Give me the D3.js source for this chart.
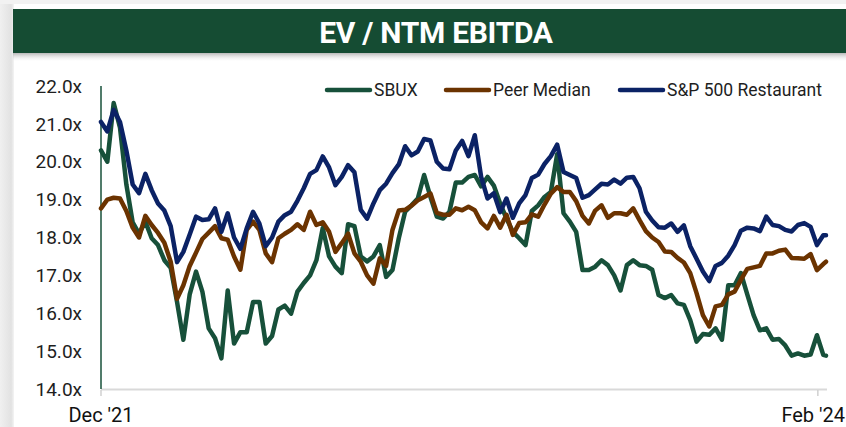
<!DOCTYPE html>
<html>
<head>
<meta charset="utf-8">
<script src="https://cdn.jsdelivr.net/npm/d3@7"></script>
<style>
  html, body { margin: 0; padding: 0; background: #fff; }
  svg { display: block; font-family: Roboto, "Noto Sans", sans-serif; }
</style>
</head>
<body>
<svg id="chart" width="846" height="427"></svg>
<script>
// weekly closes, Dec 1 2021 -> Feb 2024
const startDate = new Date(2021, 11, 1);
const endDate = new Date(2024, 1, 10);

const sbux = [20.3, 20.0, 21.55, 20.9, 19.4, 18.4, 18.1, 18.42, 17.98, 17.8,
  17.4, 17.2, 16.3, 15.3, 16.5, 17.1, 16.57, 15.6, 15.34, 14.81,
  16.6, 15.2, 15.5, 15.5, 16.3, 16.3, 15.2, 15.4, 16.1, 16.2,
  15.99, 16.57, 16.8, 17.0, 17.4, 18.25, 17.5, 17.23, 17.06, 18.35,
  18.3, 17.5, 17.37, 17.5, 17.8, 16.96, 17.14, 17.98, 18.68, 18.85,
  19.03, 19.65, 19.07, 18.55, 18.5, 18.68, 19.45, 19.45, 19.6, 19.65,
  19.35, 19.6, 19.37, 18.9, 18.5, 18.15, 17.98, 17.8, 18.7, 18.85,
  19.07, 19.2, 20.2, 18.64, 18.42, 18.15, 17.14, 17.14, 17.23, 17.4,
  17.27, 17.0, 16.6, 17.27, 17.4, 17.27, 17.25, 17.15, 16.48, 16.4,
  16.48, 16.26, 16.22, 15.82, 15.25, 15.45, 15.43, 15.6, 15.3, 16.74,
  16.74, 17.06, 16.5, 15.95, 15.55, 15.6, 15.3, 15.32, 15.15, 14.88,
  14.94, 14.88, 14.91, 15.42, 14.9, 14.88];

const peerMedian = [18.77, 19.0, 19.05, 19.03, 18.7, 18.26, 18.0, 18.57, 18.33, 18.12,
  17.86, 17.36, 16.38, 16.74, 17.25, 17.6, 17.96, 18.13, 18.3, 17.98,
  17.94, 17.5, 17.15, 18.2, 18.42, 18.2, 17.58, 17.35, 17.98, 18.1,
  18.2, 18.35, 18.2, 18.68, 18.33, 18.4, 18.15, 17.62, 17.85, 18.1,
  17.58, 17.36, 17.0, 16.78, 17.45, 17.25, 18.2, 18.71, 18.73, 18.84,
  18.98, 19.07, 19.16, 18.65, 18.6, 18.6, 18.77, 18.72, 18.81, 18.72,
  18.4, 18.24, 18.57, 18.26, 18.6, 18.07, 18.38, 18.4, 18.61, 18.55,
  18.87, 19.16, 19.33, 19.2, 19.2, 18.96, 18.57, 18.37, 18.71, 18.85,
  18.52, 18.64, 18.64, 18.6, 18.77, 18.46, 18.17, 18.0, 17.88, 17.63,
  17.62, 17.46, 17.34, 17.06, 16.53, 15.95, 15.65, 16.18, 16.22, 16.5,
  16.57, 16.88, 17.17, 17.21, 17.25, 17.58, 17.58, 17.65, 17.68, 17.46,
  17.45, 17.44, 17.56, 17.14, 17.3, 17.36];

const spRestaurant = [21.05, 20.8, 21.37, 21.05, 20.3, 19.4, 19.17, 19.68, 19.25, 18.9,
  18.71, 18.3, 17.35, 17.62, 18.08, 18.55, 18.46, 18.48, 18.77, 18.15,
  18.64, 18.0, 17.7, 18.24, 18.68, 18.37, 17.77, 18.0, 18.42, 18.59,
  18.68, 18.97, 19.3, 19.68, 19.78, 20.14, 19.85, 19.38, 19.6, 19.91,
  19.72, 18.73, 18.5, 18.9, 19.25, 19.42, 19.7, 19.93, 20.41, 20.17,
  20.27, 20.6, 20.56, 20.0, 19.82, 19.8, 20.3, 20.55, 20.15, 20.7,
  19.6, 19.03, 19.17, 18.67, 19.03, 18.52, 18.9, 19.12, 19.57, 19.66,
  19.94, 20.15, 20.45, 19.73, 19.65, 19.57, 19.05, 19.12, 19.27, 19.42,
  19.4, 19.53, 19.42, 19.58, 19.6, 19.3, 18.68, 18.45, 18.27, 18.26,
  18.37, 18.15, 18.32, 17.77, 17.44, 17.1, 16.85, 17.25, 17.33, 17.52,
  17.8, 18.18, 18.26, 18.24, 18.17, 18.55, 18.33, 18.3, 18.2, 18.16,
  18.33, 18.38, 18.28, 17.8, 18.06, 18.06];

const seriesNames = ["SBUX", "Peer Median", "S&P 500 Restaurant"];
const seriesColors = ["#17503a", "#6b3300", "#0b2265"];
const yTicks = [14, 15, 16, 17, 18, 19, 20, 21, 22];
const xTickDates = [new Date(2021, 11, 1), new Date(2024, 1, 1)];
const xTickLabels = ["Dec '21", "Feb '24"];

// dates: one per week, last point is the final day
const dates = sbux.map((d, i) => i < sbux.length - 1 ? d3.timeDay.offset(startDate, 7 * i) : endDate);

const svg = d3.select("#chart");
const W = 846, H = 427;

// page background bits
const defs = svg.append("defs");
const sh = defs.append("linearGradient").attr("id", "shadow").attr("x1", 0).attr("x2", 0).attr("y1", 0).attr("y2", 1);
sh.append("stop").attr("offset", "0%").attr("stop-color", "#9a9a9a").attr("stop-opacity", 0.7);
sh.append("stop").attr("offset", "100%").attr("stop-color", "#fff").attr("stop-opacity", 0);
const lg = defs.append("linearGradient").attr("id", "leftShadow").attr("x1", 0).attr("x2", 1).attr("y1", 0).attr("y2", 0);
lg.append("stop").attr("offset", "0%").attr("stop-color", "#f0f0f0");
lg.append("stop").attr("offset", "80%").attr("stop-color", "#e2e2e2");
lg.append("stop").attr("offset", "100%").attr("stop-color", "#f4f4f4");

svg.append("rect").attr("x", 0).attr("y", 0).attr("width", 14).attr("height", H).attr("fill", "url(#leftShadow)");
svg.append("rect").attr("x", 0).attr("y", 0).attr("width", W).attr("height", 4).attr("fill", "#f2f2f2");

// title bar
svg.append("rect").attr("x", 13).attr("y", 53).attr("width", W - 13).attr("height", 9).attr("fill", "url(#shadow)");
svg.append("rect").attr("x", 13).attr("y", 9).attr("width", W - 13).attr("height", 44).attr("fill", "#154c33");
svg.append("text")
  .attr("x", 436).attr("y", 43)
  .attr("text-anchor", "middle")
  .attr("fill", "#fff")
  .attr("font-size", 30).attr("font-weight", 700)
  .attr("letter-spacing", -0.3)
  .text("EV / NTM EBITDA");

// scales
const x = d3.scaleTime().domain([startDate, endDate]).range([101, 826]);
const y = d3.scaleLinear().domain([14, 22]).range([389, 86]);

// y labels
svg.append("g").selectAll("text").data(yTicks).join("text")
  .attr("x", 82).attr("y", d => y(d)).attr("dy", "0.35em")
  .attr("text-anchor", "end")
  .attr("font-size", 19).attr("fill", "#1e1e1e")
  .text(d => d.toFixed(1) + "x");

// x axis line + ticks
svg.append("line").attr("x1", 101).attr("x2", 827).attr("y1", 389.5).attr("y2", 389.5)
  .attr("stroke", "#d9d9d9").attr("stroke-width", 2);
svg.append("g").selectAll("line").data(xTickDates).join("line")
  .attr("x1", d => x(d)).attr("x2", d => x(d)).attr("y1", 390).attr("y2", 396)
  .attr("stroke", "#d0d0d0").attr("stroke-width", 1.5);
// last label would run past the page edge, so pin it to the right
svg.append("g").selectAll("text").data(xTickDates).join("text")
  .attr("x", (d, i) => i === 0 ? x(d) : W - 1).attr("y", 422)
  .attr("text-anchor", (d, i) => i === 0 ? "middle" : "end")
  .attr("font-size", 20).attr("fill", "#111")
  .text((d, i) => xTickLabels[i]);

// left axis line
svg.append("line").attr("x1", 101).attr("x2", 101).attr("y1", 86).attr("y2", 389)
  .attr("stroke", "#17503a").attr("stroke-width", 1.5);

// series lines
const line = d3.line().x((d, i) => x(dates[i])).y(d => y(d));
[sbux, peerMedian, spRestaurant].forEach((vals, k) => {
  svg.append("path")
    .datum(vals)
    .attr("d", line)
    .attr("fill", "none")
    .attr("stroke", seriesColors[k])
    .attr("stroke-width", 4.5)
    .attr("stroke-linejoin", "round")
    .attr("stroke-linecap", "round");
});

// legend
const legendX = [327, 446, 620];
const leg = svg.append("g").selectAll("g").data(seriesNames).join("g")
  .attr("transform", (d, i) => `translate(${legendX[i]},90)`);
leg.append("line").attr("x1", 0).attr("x2", 43).attr("y1", 0).attr("y2", 0)
  .attr("stroke", (d, i) => seriesColors[i]).attr("stroke-width", 4.5).attr("stroke-linecap", "round");
leg.append("text").attr("x", 47).attr("dy", "0.35em")
  .attr("font-size", 17.5).attr("fill", "#1e1e1e")
  .text(d => d);
</script>
</body>
</html>
